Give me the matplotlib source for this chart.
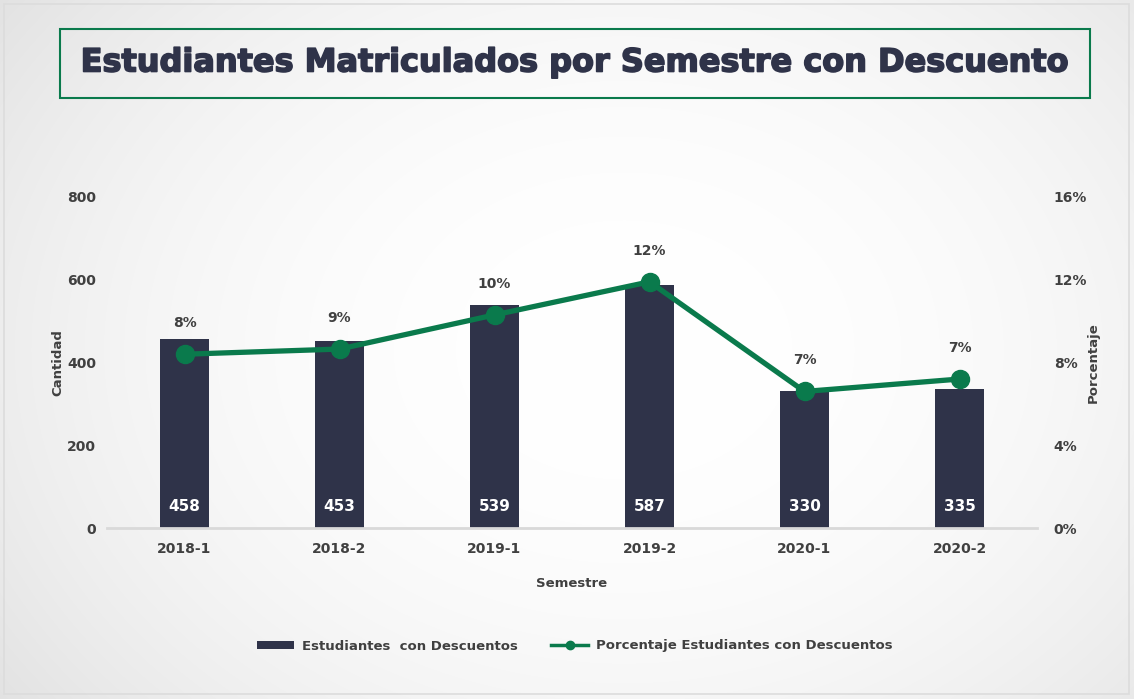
import numpy as np
import matplotlib
matplotlib.use("Agg")
import matplotlib.pyplot as plt
import matplotlib.patheffects as pe
from matplotlib.patches import Rectangle
from matplotlib.lines import Line2D
from matplotlib.patches import Patch
from matplotlib.ticker import FuncFormatter

semestres = ["2018-1", "2018-2", "2019-1", "2019-2", "2020-1", "2020-2"]
estudiantes = [458, 453, 539, 587, 330, 335]
porcentaje = [8.4, 8.65, 10.3, 11.9, 6.6, 7.2]
y_ticks = [0, 200, 400, 600, 800]
p_ticks = [0, 4, 8, 12, 16]

BAR = "#2f3349"
GREEN = "#0a7a4c"
TXT = "#404040"
FONT = "DejaVu Sans"
plt.rcParams["font.family"] = FONT

W, H = 1134, 699
fig = plt.figure(figsize=(W / 100, H / 100), dpi=100)

# background radial gradient
bg = fig.add_axes([0, 0, 1, 1], zorder=-10)
yy, xx = np.mgrid[0:H, 0:W]
r = np.sqrt(((xx - W * 0.55) / (W * 0.6)) ** 2 + ((yy - H * 0.5) / (H * 0.75)) ** 2)
val = 1.0 - 0.085 * np.clip(r, 0, 1.2) ** 2.2
img = np.dstack([val, val, val])
bg.imshow(img, extent=[0, W, H, 0], aspect="auto")
bg.set_xlim(0, W)
bg.set_ylim(H, 0)
bg.axis("off")
bg.add_patch(Rectangle((4, 4), W - 9, H - 9, fill=False, edgecolor="#dcdcdc", lw=1.2))
bg.add_patch(Rectangle((60, 29), 1030, 69, fill=False, edgecolor=GREEN, lw=1.5))
bg.text(575, 63, "Estudiantes Matriculados por Semestre con Descuento",
        ha="center", va="center", fontsize=23, fontweight="bold", color=BAR,
        path_effects=[pe.withStroke(linewidth=1.2, foreground=BAR)])

ax = fig.add_axes([107 / W, 171 / H, 930 / W, 331 / H])
ax.patch.set_alpha(0)
x = np.arange(len(semestres))
ax.bar(x, estudiantes, width=0.32, color=BAR, zorder=2)
ax.set_xlim(-0.5, len(semestres) - 0.5)
ax.set_ylim(0, 800)
ax.set_yticks(y_ticks)
ax.set_xticks(x)
ax.set_xticklabels(semestres)
for s in ["top", "right", "left"]:
    ax.spines[s].set_visible(False)
ax.spines["bottom"].set_color("#d9d9d9")
ax.spines["bottom"].set_linewidth(2)
ax.tick_params(axis="both", length=0, labelsize=10, labelcolor=TXT)
ax.tick_params(axis="y", pad=8)
ax.tick_params(axis="x", pad=10)
for lab in ax.get_xticklabels() + ax.get_yticklabels():
    lab.set_fontweight("bold")
ax.set_ylabel("Cantidad", fontsize=9.5, fontweight="bold", color=TXT, labelpad=2)
ax.set_xlabel("Semestre", fontsize=9.5, fontweight="bold", color=TXT, labelpad=15)
for xi, v in zip(x, estudiantes):
    ax.text(xi, 51, f"{v}", ha="center", va="center", color="white",
            fontsize=11, fontweight="bold", zorder=3)

ax2 = ax.twinx()
ax2.patch.set_alpha(0)
ax2.plot(x, porcentaje, color=GREEN, lw=3.8, marker="o", markersize=13, zorder=4)
ax2.set_ylim(0, 16)
ax2.set_yticks(p_ticks)
ax2.yaxis.set_major_formatter(FuncFormatter(lambda v, p: f"{v:.0f}%"))
for s in ["top", "right", "left", "bottom"]:
    ax2.spines[s].set_visible(False)
ax2.tick_params(axis="y", length=0, labelsize=10, labelcolor=TXT, pad=12)
for lab in ax2.get_yticklabels():
    lab.set_fontweight("bold")
ax2.set_ylabel("Porcentaje", fontsize=9.5, fontweight="bold", color=TXT, labelpad=0)
for xi, p in zip(x, porcentaje):
    ax2.annotate(f"{p:.0f}%", (xi, p), xytext=(0, 22.5), textcoords="offset points",
                 ha="center", va="center", fontsize=10, fontweight="bold", color=TXT)

handles = [Patch(facecolor=BAR, label="Estudiantes  con Descuentos"),
           Line2D([0], [0], color=GREEN, lw=2.5, marker="o", markersize=6,
                  label="Porcentaje Estudiantes con Descuentos")]
leg = fig.legend(handles=handles, loc="center", bbox_to_anchor=(575 / W, 1 - 646 / H),
                 ncol=2, frameon=False, fontsize=9.5, columnspacing=2.5,
                 handlelength=2.8, handleheight=0.6, handletextpad=0.6)
for t in leg.get_texts():
    t.set_fontweight("bold")
    t.set_color(TXT)

fig.savefig("out.png", dpi=100)
